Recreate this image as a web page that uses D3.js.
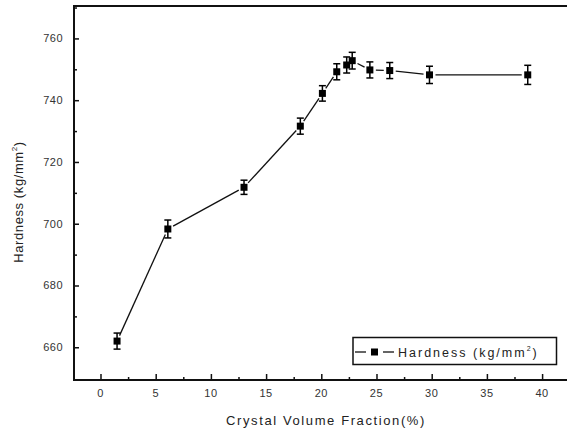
<!DOCTYPE html>
<html>
<head>
<meta charset="utf-8">
<script src="https://cdn.jsdelivr.net/npm/d3@7"></script>
<style>
  body { margin: 0; background: #fff; }
  text { font-family: "Liberation Sans", Arial, sans-serif; }
</style>
</head>
<body>
<svg id="chart"></svg>
<script>
var width = 567, height = 433;

// data
var fraction = [1.5, 6.1, 13.0, 18.1, 20.1, 21.4, 22.3, 22.8, 24.4, 26.2, 29.8, 38.7];
var hardness = [662, 698.3, 711.8, 731.6, 742.2, 749.2, 751.4, 752.8, 749.8, 749.6, 748.2, 748.2];
var errors   = [2.6, 2.9, 2.3, 2.6, 2.5, 2.6, 2.6, 2.7, 2.6, 2.6, 2.8, 3.1];
var xTicks = [0, 5, 10, 15, 20, 25, 30, 35, 40];
var yTicks = [660, 680, 700, 720, 740, 760];
var legendLabel = "Hardness";

var plot = {left: 74, top: 6, bottom: 380};

var svg = d3.select("#chart")
    .attr("width", width)
    .attr("height", height);

var xAxis = d3.scaleLinear()
    .domain([-2.4, 44])
    .range([plot.left, plot.left + 46.4 * 11.04]);

var yAxis = d3.scaleLinear()
    .domain([649.4, 770.5])
    .range([plot.bottom, plot.top]);

// axes: ticks point inwards, minor ticks half way
svg.append("g")
    .attr("transform", "translate(0," + plot.bottom + ")")
    .call(d3.axisTop(xAxis).tickValues(xTicks).tickSize(6).tickFormat(""))
    .call(g => g.select(".domain").remove())
    .selectAll("line").attr("stroke", "#111").attr("stroke-width", 1.5);

svg.append("g")
    .attr("transform", "translate(0," + plot.bottom + ")")
    .call(d3.axisTop(xAxis).tickValues(xTicks.map(d => d + 2.5)).tickSize(3).tickFormat(""))
    .call(g => g.select(".domain").remove())
    .selectAll("line").attr("stroke", "#111").attr("stroke-width", 1.5);

svg.append("g")
    .attr("transform", "translate(" + plot.left + ",0)")
    .call(d3.axisRight(yAxis).tickValues(yTicks).tickSize(5).tickFormat(""))
    .call(g => g.select(".domain").remove())
    .selectAll("line").attr("stroke", "#111").attr("stroke-width", 1.5);

svg.append("g")
    .attr("transform", "translate(" + plot.left + ",0)")
    .call(d3.axisRight(yAxis).tickValues(yTicks.map(d => d + 10)).tickSize(3).tickFormat(""))
    .call(g => g.select(".domain").remove())
    .selectAll("line").attr("stroke", "#111").attr("stroke-width", 1.5);

// frame (left, bottom, top)
svg.append("path")
    .attr("d", "M" + width + "," + plot.top + "H" + plot.left + "V" + plot.bottom + "H" + width)
    .attr("fill", "none")
    .attr("stroke", "#111")
    .attr("stroke-width", 2);

// tick labels
svg.selectAll(".xlab").data(xTicks).enter().append("text")
    .attr("x", d => xAxis(d))
    .attr("y", 397)
    .attr("text-anchor", "middle")
    .attr("font-size", "11px")
    .attr("letter-spacing", "0.5px")
    .attr("fill", "#333")
    .text(d => d);

svg.selectAll(".ylab").data(yTicks).enter().append("text")
    .attr("x", 63)
    .attr("y", d => yAxis(d) + 4)
    .attr("text-anchor", "end")
    .attr("font-size", "11px")
    .attr("letter-spacing", "0.5px")
    .attr("fill", "#333")
    .text(d => d);

// axis titles
svg.append("text")
    .attr("x", 326)
    .attr("y", 425)
    .attr("text-anchor", "middle")
    .attr("font-size", "13px")
    .attr("letter-spacing", "1.6px")
    .attr("fill", "#222")
    .text("Crystal Volume Fraction(%)");

var yt = svg.append("text")
    .attr("transform", "translate(23,202) rotate(-90)")
    .attr("text-anchor", "middle")
    .attr("font-size", "13px")
    .attr("letter-spacing", "0.6px")
    .attr("fill", "#222");
yt.append("tspan").text("Hardness (kg/mm");
yt.append("tspan").attr("dy", "-6").attr("font-size", "8px").text("2");
yt.append("tspan").attr("dy", "6").text(")");

// connecting line with small gaps near the symbols
var pts = fraction.map((f, i) => [xAxis(f), yAxis(hardness[i])]);
var gap = 6;
for (var i = 0; i < pts.length - 1; i++) {
    var a = pts[i], b = pts[i + 1];
    var dx = b[0] - a[0], dy = b[1] - a[1];
    var len = Math.sqrt(dx * dx + dy * dy);
    if (len <= 2 * gap) continue;
    svg.append("line")
        .attr("x1", a[0] + dx / len * gap)
        .attr("y1", a[1] + dy / len * gap)
        .attr("x2", b[0] - dx / len * gap)
        .attr("y2", b[1] - dy / len * gap)
        .attr("stroke", "#111")
        .attr("stroke-width", 1.3);
}

// error bars
var eb = svg.selectAll(".err").data(fraction).enter().append("g");
eb.append("line")
    .attr("x1", d => xAxis(d)).attr("x2", d => xAxis(d))
    .attr("y1", (d, i) => yAxis(hardness[i] + errors[i]))
    .attr("y2", (d, i) => yAxis(hardness[i] - errors[i]))
    .attr("stroke", "#000").attr("stroke-width", 1.5);
eb.append("line")
    .attr("x1", d => xAxis(d) - 3.5).attr("x2", d => xAxis(d) + 3.5)
    .attr("y1", (d, i) => yAxis(hardness[i] + errors[i]))
    .attr("y2", (d, i) => yAxis(hardness[i] + errors[i]))
    .attr("stroke", "#000").attr("stroke-width", 1.5);
eb.append("line")
    .attr("x1", d => xAxis(d) - 3.5).attr("x2", d => xAxis(d) + 3.5)
    .attr("y1", (d, i) => yAxis(hardness[i] - errors[i]))
    .attr("y2", (d, i) => yAxis(hardness[i] - errors[i]))
    .attr("stroke", "#000").attr("stroke-width", 1.5);

// square symbols
svg.selectAll(".pt").data(fraction).enter().append("rect")
    .attr("x", d => xAxis(d) - 3.5)
    .attr("y", (d, i) => yAxis(hardness[i]) - 3.5)
    .attr("width", 7)
    .attr("height", 7)
    .attr("fill", "#000");

// legend
var lg = svg.append("g");
lg.append("rect")
    .attr("x", 353).attr("y", 337.5)
    .attr("width", 203.5).attr("height", 27)
    .attr("fill", "#fff").attr("stroke", "#111").attr("stroke-width", 1.5);
lg.append("line")
    .attr("x1", 355).attr("x2", 366).attr("y1", 352).attr("y2", 352)
    .attr("stroke", "#111").attr("stroke-width", 1.3);
lg.append("line")
    .attr("x1", 383).attr("x2", 394).attr("y1", 352).attr("y2", 352)
    .attr("stroke", "#111").attr("stroke-width", 1.3);
lg.append("rect")
    .attr("x", 371).attr("y", 348.5).attr("width", 7).attr("height", 7)
    .attr("fill", "#000");
var lt = lg.append("text")
    .attr("x", 398).attr("y", 357)
    .attr("font-size", "12.5px")
    .attr("letter-spacing", "2px")
    .attr("fill", "#222");
lt.append("tspan").text(legendLabel + " (kg/mm");
lt.append("tspan").attr("dy", "-6").attr("font-size", "7px").text("2");
lt.append("tspan").attr("dy", "6").text(")");
</script>
</body>
</html>
